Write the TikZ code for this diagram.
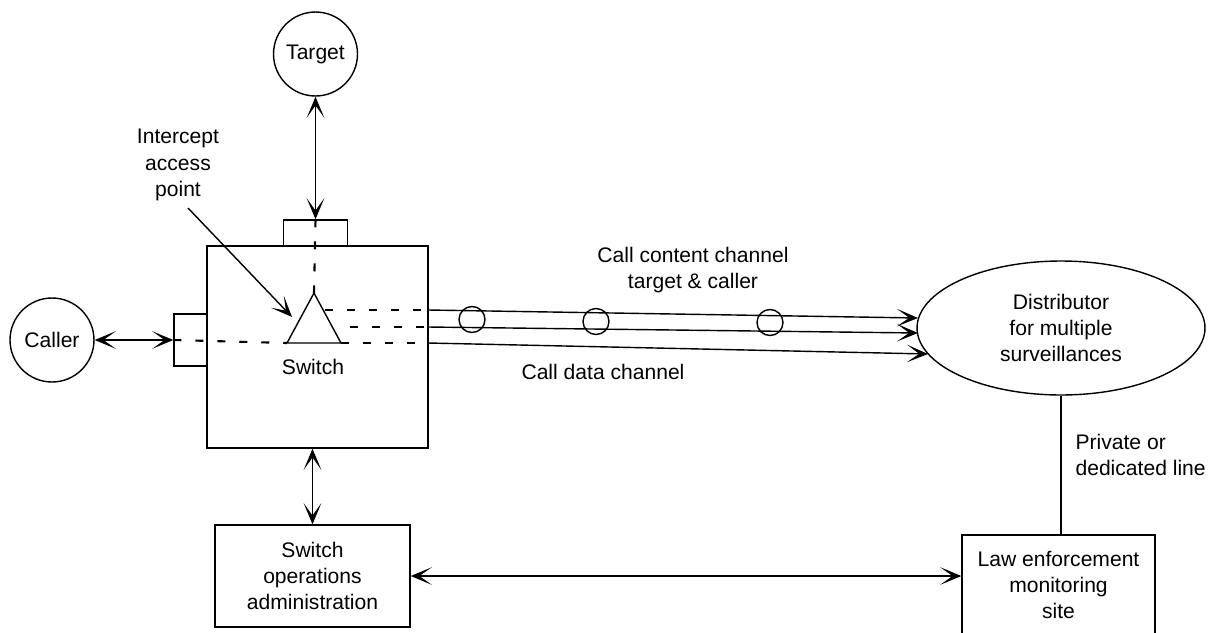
\documentclass[tikz,border=0pt]{standalone}
\usepackage{fontspec}
\setmainfont{Liberation Sans}
\usetikzlibrary{shapes.geometric, arrows.meta, positioning, calc}

\begin{document}
\begin{tikzpicture}[
    x=0.02cm, y=-0.02cm,
    line width=0.8pt,
    font=\fontsize{12}{15}\selectfont,
    station/.style={circle, draw=black, minimum size=1.68cm, inner sep=0pt},
    block/.style={rectangle, draw=black, text centered, align=center, inner sep=0pt},
    port/.style={rectangle, draw=black, fill=white, inner sep=0pt},
    probe/.style={circle, draw=black, minimum size=0.52cm, inner sep=0pt},
    tap/.style={line width=1.2pt, dash pattern=on 0.16cm off 0.28cm},
    link/.style={<->, >={Stealth[length=12pt, width=10pt, inset=7pt]}},
    feed/.style={->, >={Stealth[length=12pt, width=10pt, inset=7pt]}}
]

\useasboundingbox (0,0) rectangle (1209,632);
\clip (0,0) rectangle (1209,632);

% end points
\node (target) [station] at (315.5,54) {Target};
\node (caller) [station] at (52,340) {Caller};

% switch and its ports
\node (switch) [block, minimum width=4.42cm, minimum height=4.04cm] at (317.5,347) {};
\node (topport) [port, minimum width=1.28cm, minimum height=0.52cm] at (315.5,233) {};
\node (sideport) [port, minimum width=0.66cm, minimum height=1.04cm] at (190.5,340) {};

\coordinate (tri-l) at (287,343);
\coordinate (tri-r) at (341,343);
\coordinate (tri-t) at (314,293);
\draw (tri-l) -- (tri-r) -- (tri-t) -- cycle;
\node (swlabel) at (313,367) {Switch};

\node (iap) [align=center] at (178,165) {Intercept\\access\\point};
\coordinate (iap-foot) at (188,208);
\coordinate (aim) at (292,317);

% channel end points
\coordinate (o1) at (428,310);
\coordinate (o2) at (428,327);
\coordinate (o3) at (428,343);
\coordinate (i1) at (918,318);
\coordinate (i2) at (918,333);
\coordinate (i3) at (928,354);

\node (dist) [ellipse, draw=black, minimum width=5.76cm, minimum height=2.68cm, align=center] at (1061,328) {Distributor\\for multiple\\surveillances};
\node (content) [align=center] at (693,270) {Call content channel\\target \& caller};
\node (data) at (603,372) {Call data channel};

\node (admin) [block, minimum width=3.9cm, minimum height=2.04cm] at (312.5,576) {Switch\\operations\\administration};
\node (law) [block, minimum width=3.86cm, minimum height=2cm] at (1058.5,585) {Law enforcement\\monitoring\\site};
\node (priv) [align=left, anchor=west] at (1069,455) {Private or\\dedicated line};

% dashed paths through the switch
\draw [tap] (topport.north) -- (tri-t);
\draw [tap] (sideport.west) -- (tri-l);
\draw [tap] (325,310) -- (o1);
\draw [tap] (350,327) -- (o2);
\draw [tap] (tri-r) -- (o3);

\draw [feed] (o1) -- (i1);
\draw [feed] (o2) -- (i2);
\draw [feed] (o3) -- (i3);

\node (p1) [probe] at (472,319.5) {};
\node (p2) [probe] at (596,321.5) {};
\node (p3) [probe] at (770,322.5) {};

\draw [link] (target) -- (topport.north);
\draw [link] (caller) -- (sideport);
\draw [feed] (iap-foot) -- (aim);
\draw [link] (admin.north |- switch.south) -- (admin.north);
\draw [link] (admin.east) -- (admin.east -| law.west);
\draw (dist.south) -- (dist.south |- law.north);

\end{tikzpicture}
\end{document}
